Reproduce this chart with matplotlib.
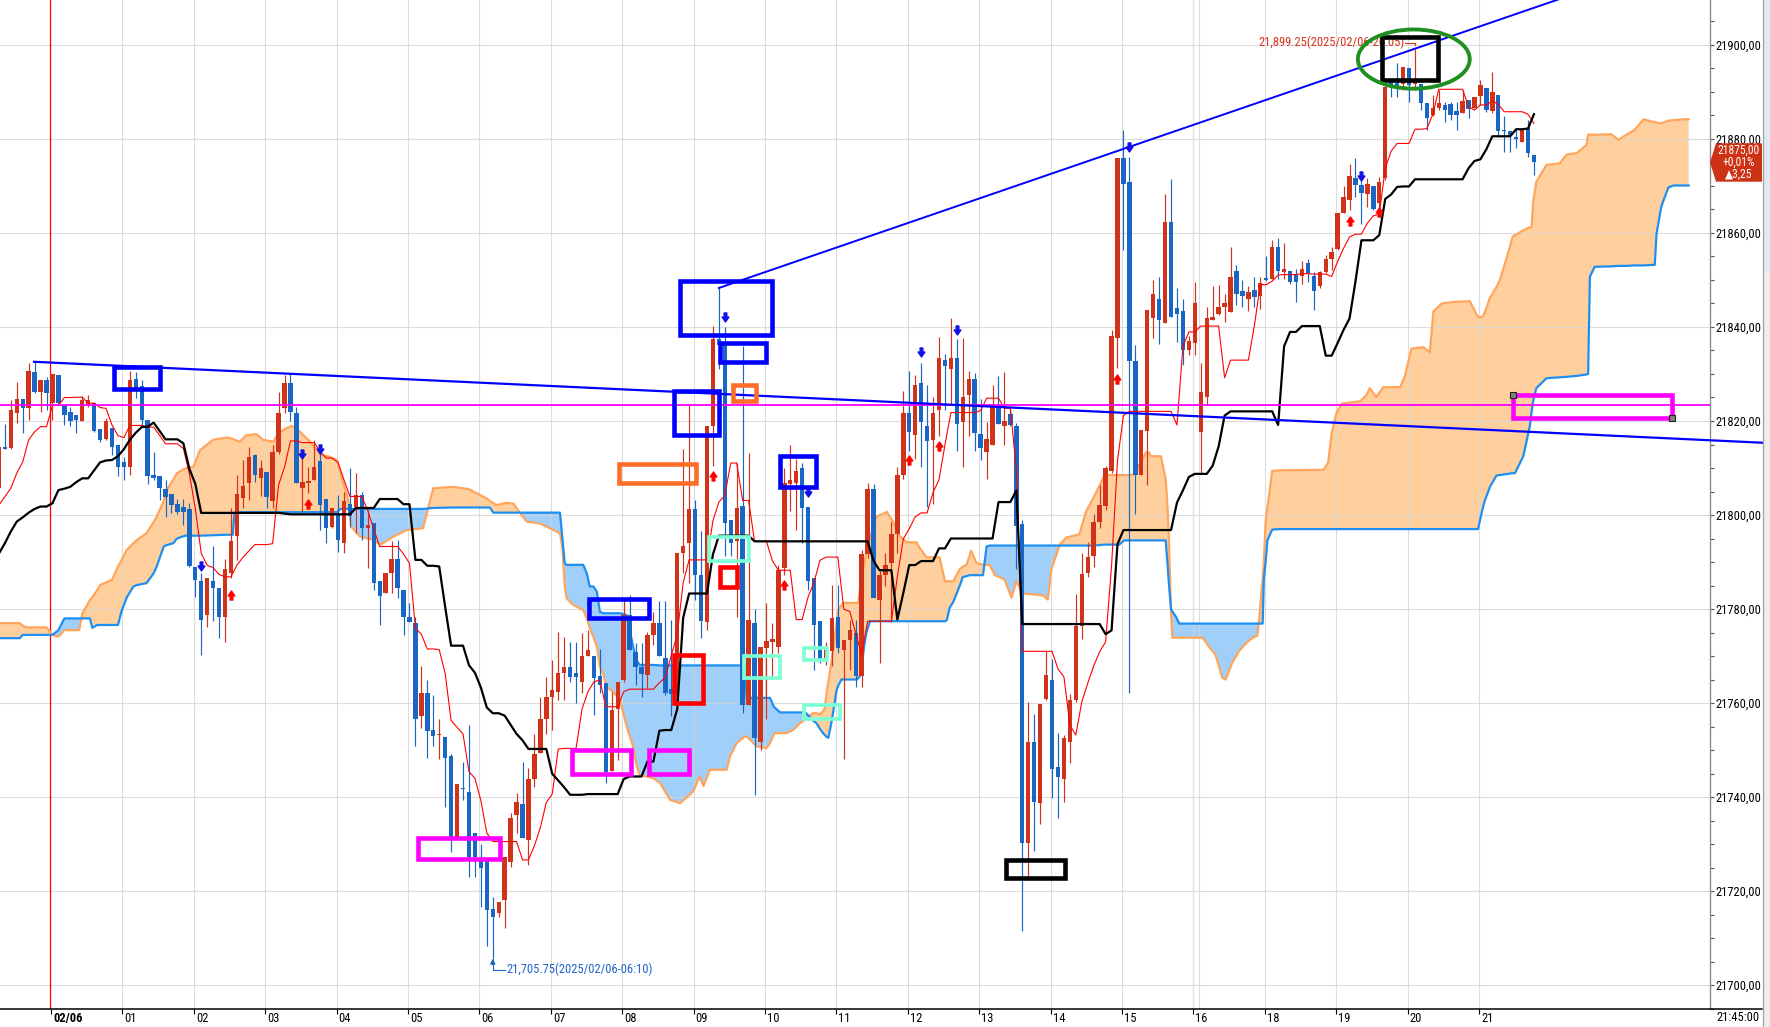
import numpy as np
import pandas as pd
import matplotlib
matplotlib.use("Agg")
import matplotlib.pyplot as plt
from matplotlib import font_manager
from matplotlib.path import Path
from matplotlib.patches import Rectangle, Ellipse, Polygon

# ---------------- data (5-minute candles, index 0 = 02/06 00:00) ----------------
first_idx = -9
opens = [
    21805.7, 21814.5, 21814.2, 21821.6, 21824.6, 21822.7, 21830.4, 21826.2, 21828.7, 21823.8,
    21829.8, 21823.5, 21822.0, 21821.3, 21819.9, 21823.4, 21823.8, 21818.4, 21816.2, 21818.5,
    21814.8, 21811.3, 21810.3, 21828.9, 21827.4, 21820.2, 21808.5, 21808.4, 21805.5, 21804.5,
    21802.3, 21801.6, 21801.2, 21789.0, 21786.0, 21778.7, 21786.0, 21784.5, 21778.4, 21787.6,
    21795.6, 21803.6, 21806.8, 21812.8, 21807.8, 21809.1, 21802.9, 21813.5, 21822.7, 21828.1,
    21821.8, 21805.7, 21806.9, 21807.5, 21811.4, 21803.4, 21797.5, 21800.2, 21794.1, 21802.3,
    21801.8, 21804.3, 21797.2, 21798.4, 21785.9, 21783.4, 21787.6, 21790.6, 21784.1, 21778.4,
    21777.0, 21757.2, 21762.1, 21754.3, 21753.2, 21752.8, 21748.7, 21731.6, 21741.8, 21741.0,
    21732.3, 21727.0, 21726.6, 21716.1, 21715.4, 21718.1, 21726.2, 21736.2, 21738.5, 21730.9,
    21743.8, 21749.3, 21756.7, 21761.3, 21762.4, 21766.3, 21767.7, 21766.3, 21764.5, 21770.0,
    21770.0, 21765.7, 21764.2, 21745.6, 21758.7, 21764.9, 21778.7, 21770.9, 21767.7, 21766.0,
    21774.5, 21777.0, 21769.6, 21763.0, 21761.8, 21791.9, 21794.0, 21801.3, 21787.2, 21777.2,
    21819.0, 21837.5, 21836.5, 21799.0, 21794.4, 21802.0, 21759.6, 21777.0, 21751.8, 21771.7,
    21772.9, 21772.0, 21788.7, 21806.5, 21806.8, 21809.9, 21801.8, 21786.6, 21777.4, 21769.5,
    21771.0, 21778.4, 21771.3, 21773.5, 21774.9, 21765.8, 21791.6, 21805.6, 21782.0, 21787.2,
    21789.8, 21795.9, 21808.5, 21821.6, 21817.0, 21828.1, 21819.0, 21815.9, 21822.3, 21833.0,
    21831.0, 21833.3, 21819.8, 21825.5, 21829.0, 21817.2, 21813.5, 21815.0, 21823.1, 21819.0,
    21821.4, 21819.0, 21798.1, 21730.3, 21751.6, 21738.7, 21760.9, 21765.0, 21746.3, 21743.9,
    21751.6, 21760.7, 21776.3, 21787.7, 21791.3, 21798.5, 21802.0, 21809.4, 21837.7, 21875.9,
    21870.8, 21832.8, 21808.5, 21817.8, 21842.0, 21846.0, 21840.8, 21862.3, 21844.0, 21843.3,
    21835.0, 21836.5, 21817.6, 21825.1, 21841.5, 21842.8, 21844.2, 21843.2, 21852.0, 21847.7,
    21846.0, 21847.9, 21846.5, 21850.5, 21850.3, 21857.1, 21851.7, 21852.0, 21851.1, 21850.9,
    21853.6, 21850.9, 21848.7, 21851.8, 21854.4, 21856.5, 21864.2, 21867.0, 21871.6, 21870.2,
    21868.4, 21870.0, 21866.3, 21871.6, 21892.2, 21892.0, 21891.8, 21895.0, 21891.7, 21891.8,
    21887.6, 21885.1, 21886.5, 21887.2, 21887.4, 21886.0, 21885.6, 21888.3, 21886.5, 21889.1,
    21890.8, 21886.0, 21889.4, 21882.0, 21881.6, 21880.3, 21879.4, 21882.3, 21876.6,
]
highs = [
    21815.0, 21819.4, 21824.5, 21828.4, 21824.6, 21832.4, 21832.6, 21828.7, 21829.4, 21830.1,
    21829.8, 21823.5, 21823.0, 21821.3, 21825.3, 21825.5, 21823.8, 21818.4, 21820.6, 21818.5,
    21814.8, 21812.4, 21830.7, 21830.4, 21828.7, 21820.2, 21813.5, 21808.4, 21807.4, 21804.5,
    21803.5, 21803.5, 21802.6, 21789.0, 21787.6, 21786.7, 21793.3, 21784.5, 21790.6, 21801.4,
    21808.5, 21811.7, 21814.5, 21813.0, 21811.7, 21809.1, 21814.9, 21826.2, 21829.8, 21830.1,
    21823.0, 21812.8, 21810.3, 21816.0, 21813.1, 21803.4, 21801.4, 21804.3, 21805.0, 21809.9,
    21808.9, 21805.0, 21801.1, 21798.4, 21785.9, 21787.6, 21794.4, 21794.7, 21784.1, 21781.3,
    21778.4, 21767.8, 21765.0, 21761.8, 21756.5, 21752.8, 21749.1, 21742.8, 21747.5, 21755.3,
    21732.3, 21730.0, 21726.6, 21718.8, 21717.7, 21727.3, 21736.5, 21740.8, 21747.5, 21746.1,
    21753.5, 21761.3, 21765.6, 21769.2, 21775.2, 21774.1, 21773.0, 21773.0, 21774.8, 21775.5,
    21770.0, 21771.5, 21764.2, 21762.4, 21764.5, 21781.9, 21783.0, 21772.7, 21772.7, 21775.2,
    21779.4, 21781.6, 21781.6, 21777.7, 21791.9, 21814.0, 21823.7, 21803.1, 21796.5, 21819.0,
    21840.3, 21848.3, 21840.0, 21799.0, 21811.0, 21836.0, 21813.2, 21779.9, 21772.0, 21781.3,
    21777.0, 21789.4, 21810.0, 21815.0, 21811.9, 21811.0, 21801.8, 21786.6, 21777.4, 21773.0,
    21785.2, 21785.2, 21773.5, 21777.7, 21777.7, 21792.6, 21806.8, 21806.5, 21788.0, 21792.0,
    21798.5, 21810.3, 21826.3, 21830.7, 21829.8, 21832.4, 21827.7, 21825.0, 21837.8, 21834.2,
    21842.0, 21837.4, 21837.7, 21830.7, 21830.3, 21824.6, 21819.8, 21827.7, 21829.6, 21830.4,
    21822.9, 21819.5, 21799.0, 21760.3, 21757.7, 21759.7, 21771.1, 21769.4, 21753.7, 21753.3,
    21762.0, 21783.1, 21792.0, 21794.2, 21800.3, 21806.3, 21810.5, 21839.3, 21876.0, 21882.0,
    21876.2, 21836.1, 21818.0, 21843.6, 21850.0, 21850.7, 21868.2, 21871.5, 21848.3, 21845.9,
    21838.1, 21849.5, 21832.4, 21844.2, 21848.7, 21849.0, 21847.0, 21857.0, 21853.2, 21849.9,
    21848.7, 21850.7, 21850.7, 21855.2, 21858.5, 21858.9, 21857.9, 21852.0, 21852.4, 21854.0,
    21854.4, 21851.7, 21852.0, 21855.3, 21857.1, 21864.3, 21869.9, 21874.7, 21875.9, 21871.3,
    21871.6, 21870.0, 21872.0, 21891.1, 21893.0, 21896.2, 21895.4, 21895.0, 21899.25, 21891.8,
    21887.6, 21889.4, 21890.4, 21887.9, 21887.9, 21887.9, 21890.4, 21888.3, 21889.0, 21892.6,
    21890.8, 21894.3, 21889.4, 21884.8, 21881.6, 21882.3, 21881.9, 21884.0, 21876.6,
]
lows = [
    21805.0, 21814.0, 21814.0, 21819.5, 21817.4, 21820.2, 21825.9, 21822.0, 21822.3, 21820.2,
    21823.4, 21819.1, 21819.0, 21817.5, 21819.9, 21823.0, 21817.7, 21815.6, 21816.0, 21812.8,
    21808.3, 21807.4, 21808.5, 21824.8, 21818.8, 21806.7, 21807.4, 21803.2, 21799.6, 21800.4,
    21800.2, 21797.9, 21789.0, 21782.6, 21770.2, 21776.1, 21777.4, 21773.8, 21772.9, 21786.6,
    21790.5, 21801.4, 21803.2, 21807.0, 21804.0, 21801.4, 21801.4, 21813.0, 21821.6, 21819.9,
    21806.8, 21800.7, 21804.6, 21807.5, 21796.8, 21794.1, 21797.2, 21792.2, 21791.9, 21797.5,
    21796.1, 21794.7, 21788.7, 21784.1, 21776.7, 21783.4, 21783.4, 21782.3, 21774.5, 21777.2,
    21750.8, 21754.7, 21748.3, 21750.8, 21748.0, 21737.9, 21728.4, 21731.6, 21739.4, 21723.0,
    21723.0, 21716.7, 21708.2, 21705.75, 21714.5, 21712.1, 21725.2, 21732.3, 21731.2, 21725.5,
    21742.2, 21749.3, 21753.5, 21754.3, 21760.6, 21760.6, 21764.5, 21759.9, 21762.1, 21769.9,
    21757.4, 21762.1, 21742.9, 21745.6, 21747.9, 21764.5, 21771.3, 21763.8, 21761.3, 21763.1,
    21772.3, 21769.9, 21761.8, 21757.2, 21760.0, 21787.7, 21785.5, 21782.0, 21773.8, 21775.6,
    21810.4, 21831.0, 21791.2, 21791.2, 21778.4, 21757.9, 21759.6, 21740.5, 21750.1, 21756.5,
    21765.7, 21770.6, 21787.3, 21800.8, 21796.9, 21794.0, 21784.1, 21767.1, 21768.5, 21768.0,
    21767.8, 21770.6, 21748.0, 21767.1, 21763.5, 21763.5, 21790.9, 21782.3, 21768.5, 21785.0,
    21777.2, 21792.0, 21807.7, 21813.7, 21812.0, 21810.3, 21801.6, 21802.4, 21816.8, 21822.4,
    21823.3, 21813.7, 21810.3, 21816.8, 21813.7, 21811.6, 21807.7, 21815.0, 21819.4, 21815.0,
    21819.0, 21788.5, 21711.6, 21723.3, 21728.5, 21734.2, 21760.7, 21739.8, 21735.5, 21739.0,
    21747.2, 21760.3, 21773.7, 21786.8, 21789.0, 21797.2, 21801.0, 21808.9, 21831.2, 21856.4,
    21762.1, 21800.3, 21808.5, 21806.4, 21837.7, 21836.3, 21840.8, 21842.2, 21836.9, 21832.0,
    21834.1, 21834.1, 21808.9, 21823.5, 21841.4, 21842.6, 21841.0, 21843.2, 21844.6, 21844.2,
    21843.4, 21844.2, 21843.8, 21849.8, 21850.3, 21850.3, 21850.3, 21849.1, 21845.4, 21849.1,
    21849.5, 21843.6, 21848.3, 21851.4, 21852.1, 21856.4, 21864.2, 21864.9, 21867.7, 21861.9,
    21865.6, 21864.9, 21865.2, 21871.3, 21889.0, 21889.0, 21890.4, 21887.9, 21890.5, 21886.2,
    21881.9, 21884.8, 21886.2, 21883.7, 21884.0, 21881.9, 21885.5, 21884.4, 21886.5, 21887.2,
    21885.8, 21885.5, 21880.5, 21877.3, 21877.3, 21878.0, 21879.4, 21876.2, 21872.3,
]
closes = [
    21814.4, 21814.0, 21822.3, 21824.6, 21822.7, 21830.6, 21826.2, 21828.7, 21825.9, 21830.1,
    21823.8, 21821.3, 21819.9, 21820.2, 21824.5, 21824.5, 21817.9, 21816.0, 21819.9, 21814.5,
    21810.3, 21810.3, 21828.7, 21826.9, 21820.2, 21808.2, 21807.8, 21805.7, 21803.9, 21802.2,
    21800.7, 21800.7, 21789.2, 21786.2, 21777.7, 21786.7, 21784.5, 21778.2, 21788.5, 21794.4,
    21804.5, 21806.2, 21812.4, 21808.5, 21810.0, 21803.9, 21813.5, 21821.8, 21828.1, 21822.0,
    21806.8, 21807.1, 21807.0, 21810.3, 21802.2, 21797.3, 21801.4, 21794.6, 21803.0, 21799.7,
    21804.3, 21797.2, 21797.9, 21785.5, 21782.7, 21787.6, 21790.6, 21784.4, 21778.2, 21777.2,
    21756.7, 21762.1, 21754.0, 21752.9, 21753.4, 21748.4, 21731.6, 21742.8, 21741.6, 21727.3,
    21727.3, 21725.0, 21716.0, 21714.5, 21717.7, 21727.3, 21735.5, 21739.0, 21731.2, 21743.9,
    21749.1, 21756.7, 21761.3, 21762.8, 21766.3, 21767.7, 21765.6, 21765.6, 21769.9, 21771.3,
    21765.4, 21763.8, 21745.4, 21758.5, 21764.5, 21778.7, 21771.3, 21767.7, 21766.2, 21774.5,
    21777.0, 21769.9, 21762.1, 21762.0, 21791.9, 21793.5, 21801.3, 21787.2, 21777.4, 21819.0,
    21837.5, 21836.2, 21798.3, 21794.0, 21801.5, 21759.6, 21777.7, 21752.6, 21772.0, 21773.3,
    21773.7, 21788.4, 21806.9, 21807.4, 21809.4, 21801.5, 21785.9, 21776.7, 21769.4, 21772.0,
    21778.1, 21771.7, 21773.5, 21775.6, 21765.7, 21791.6, 21805.6, 21782.3, 21787.3, 21789.4,
    21795.9, 21808.5, 21821.8, 21817.7, 21827.7, 21819.8, 21815.7, 21821.8, 21833.5, 21831.6,
    21833.3, 21819.4, 21825.2, 21829.0, 21817.5, 21814.2, 21816.1, 21823.1, 21819.4, 21820.0,
    21819.1, 21797.7, 21730.3, 21751.6, 21739.0, 21759.7, 21765.9, 21745.9, 21744.2, 21752.6,
    21760.7, 21776.3, 21787.5, 21791.0, 21798.5, 21802.2, 21810.1, 21838.1, 21875.9, 21870.4,
    21832.8, 21808.5, 21818.0, 21843.6, 21847.1, 21841.4, 21862.3, 21842.2, 21842.8, 21835.0,
    21837.1, 21845.2, 21826.2, 21842.0, 21842.2, 21844.2, 21845.0, 21850.7, 21847.1, 21846.5,
    21847.5, 21846.3, 21849.3, 21849.9, 21857.1, 21852.0, 21852.4, 21849.5, 21849.5, 21852.4,
    21851.5, 21847.7, 21851.7, 21854.4, 21856.0, 21864.3, 21867.7, 21872.1, 21870.2, 21868.6,
    21870.4, 21865.0, 21870.9, 21891.1, 21891.5, 21891.0, 21895.4, 21891.5, 21892.5, 21887.6,
    21884.4, 21886.5, 21887.6, 21886.2, 21885.1, 21885.1, 21888.1, 21886.3, 21889.0, 21891.5,
    21886.2, 21889.9, 21881.6, 21881.6, 21880.6, 21880.1, 21881.9, 21877.1, 21875.0,
]

# conversion / base line values before a full window exists
tenkan_lead = [21802.1, 21803.9, 21805.7, 21808.9, 21811.3, 21816.0, 21817.7, 21818.8]
kijun_lead = [21791.8, 21794.0, 21796.5, 21798.6, 21799.5, 21800.5, 21801.3, 21801.8,
              21801.8, 21802.5, 21805.3, 21805.6, 21806.0, 21807.0, 21807.8, 21807.8,
              21809.5, 21811.2, 21811.6, 21811.7, 21812.5, 21814.0, 21816.0, 21817.5, 21818.7]

# leading spans (cloud)
span_x = [
    -9, -5.5, -5, -4.5, -1, 0, 1, 2, 4.5, 5, 6.3, 6.7, 7.5, 8, 10, 11, 11.6, 12.5, 13.6, 14.2,
    15.8, 17, 17.5, 18.7, 19.2, 20.3, 20.9, 22.3, 23.7, 24.8, 27, 29.3, 30.3, 30.6, 31.5, 32.6,
    34.3, 35.4, 37.1, 38.2, 40.2, 41.6, 43.3, 45, 46.6, 47.8, 48.4, 48.9, 49.7, 50.2, 51.7, 54,
    55.1, 57.3, 59.5, 62.3, 63.2, 64, 67.4, 70, 73, 73.5, 74.1, 74.6, 76.3, 77.5, 78.6, 79.7,
    81.9, 83.6, 85.3, 85.7, 86.1, 86.4, 87.5, 89.2, 89.8, 90.3, 90.9, 91.5, 92, 92.6, 93.1, 94.2,
    95.4, 96.5, 97.6, 98.2, 98.7, 101, 102.1, 103.8, 105.5, 107.7, 108.8, 109.4, 110.5, 113.3,
    113.9, 115, 116.3, 116.7, 118.3, 120, 120.6, 121.2, 121.4, 122.3, 123.4, 124.5, 125.6, 126.2,
    126.7, 127.9, 128.4, 129, 129.5, 129.8, 130.1, 130.4, 130.9, 131.2, 131.8, 132.1, 132.6,
    132.9, 135.2, 135.4, 135.7, 136, 136.5, 136.8, 137.4, 138.5, 139.9, 140.2, 141.3, 142.4,
    143.6, 145.2, 145.8, 146.9, 149.1, 150, 150.3, 150.8, 151.4, 152.5, 153, 153.6, 154.2, 154.4,
    155.3, 156.4, 157, 157.5, 158.4, 160, 161.2, 162, 163.1, 166.5, 167.3, 167.9, 169.3, 170.4,
    172.6, 173.7, 174.8, 176, 176.8, 179.3, 180.1, 181.5, 182.1, 183.8, 184.3, 184.6, 186.3,
    187.1, 187.4, 187.6, 188, 188.2, 188.8, 189.4, 193.3, 194.4, 195.5, 196.6, 197.2, 198.3,
    199.4, 200.6, 201.7, 202.5, 202.8, 203.4, 203.6, 203.9, 204.2, 204.5, 205, 206.3, 213.6,
    214.4, 215, 215.8, 216.7, 219.8, 220.9, 221.4, 222.5, 223.7, 226.5, 227.3, 228.4, 230.4,
    231.5, 232.1, 233.5, 235.4, 238.2, 239.6, 240.3, 240.7, 241.6, 242.7, 243.3, 244.8, 245.4,
    245.8, 247.2, 248.3, 248.6, 248.9, 249.4, 251.1, 253.3, 254.5, 256.2, 257.8, 258.1, 258.4,
    259.2, 262, 263.2, 264.5, 265.9, 267.4, 268.8, 269.3, 269.6, 270.4, 271, 271.6, 272.4,
    274.4, 275,
]
span_a = [
    21777.0, 21777.0, 21776.5, 21776.1, 21776.1, 21774.5, 21774.1, 21775.5, 21775.5, 21779.0,
    21781.9, 21782.5, 21784.0, 21785.1, 21786.2, 21789.0, 21790.4, 21792.6, 21794.0, 21794.7,
    21796.1, 21798.5, 21799.6, 21803.0, 21805.3, 21807.5, 21808.9, 21809.9, 21810.3, 21813.8,
    21816.0, 21816.5, 21816.2, 21816.0, 21815.6, 21817.0, 21817.2, 21816.0, 21815.6, 21817.7,
    21819.0, 21817.7, 21815.6, 21812.8, 21812.4, 21811.7, 21809.0, 21806.8, 21803.2, 21797.5,
    21795.4, 21794.7, 21793.7, 21795.4, 21796.8, 21797.2, 21801.8, 21805.7, 21806.0, 21805.5,
    21803.5, 21803.0, 21802.5, 21802.1, 21802.6, 21802.4, 21800.4, 21798.6, 21798.2, 21797.2,
    21796.1, 21793.0, 21784.8, 21782.3, 21780.9, 21779.8, 21778.0, 21776.0, 21774.1, 21772.0,
    21767.7, 21766.0, 21763.5, 21762.4, 21760.6, 21755.0, 21750.7, 21746.5, 21744.7, 21744.0,
    21743.0, 21739.4, 21738.7, 21741.2, 21744.4, 21742.3, 21745.8, 21745.8, 21748.7, 21751.5,
    21752.8, 21752.9, 21750.8, 21750.4, 21751.5, 21753.2, 21753.6, 21753.6, 21753.6, 21754.3,
    21755.7, 21756.2, 21756.8, 21757.9, 21757.8, 21757.6, 21758.2, 21758.9, 21762.1, 21764.5,
    21768.5, 21771.3, 21777.0, 21779.9, 21780.8, 21781.3, 21781.3, 21781.3, 21784.0, 21787.0,
    21790.0, 21792.6, 21795.0, 21799.7, 21800.4, 21800.7, 21798.5, 21795.5, 21794.2, 21794.2,
    21792.9, 21791.0, 21791.0, 21785.9, 21785.9, 21785.9, 21785.9, 21788.5, 21789.0, 21789.4,
    21791.5, 21792.4, 21789.8, 21789.4, 21789.4, 21789.4, 21787.2, 21786.3, 21782.4, 21785.9,
    21783.3, 21782.9, 21782.0, 21788.5, 21793.7, 21795.2, 21795.9, 21800.7, 21803.3, 21806.3,
    21808.5, 21808.5, 21808.5, 21808.5, 21809.3, 21813.3, 21813.3, 21812.5, 21812.5, 21807.6,
    21802.0, 21796.3, 21779.2, 21773.9, 21773.9, 21773.9, 21773.9, 21771.9, 21770.2, 21765.4,
    21765.0, 21768.6, 21771.0, 21772.7, 21773.9, 21774.3, 21777.6, 21786.5, 21790.0, 21798.7,
    21801.5, 21804.4, 21809.4, 21809.5, 21809.6, 21811.1, 21817.4, 21821.7, 21823.7, 21824.2,
    21825.6, 21827.0, 21825.1, 21827.2, 21827.2, 21829.5, 21835.4, 21835.7, 21834.6, 21843.3,
    21845.0, 21845.3, 21845.5, 21842.1, 21842.1, 21843.0, 21846.2, 21848.5, 21850.1, 21856.4,
    21859.2, 21859.5, 21860.6, 21861.2, 21861.3, 21867.0, 21870.9, 21874.5, 21874.8, 21876.7,
    21877.0, 21878.7, 21880.9, 21880.9, 21880.9, 21881.0, 21879.8, 21880.9, 21881.9, 21884.2,
    21883.7, 21883.6, 21883.5, 21883.3, 21883.6, 21883.9, 21884.0, 21884.2, 21884.2,
]
span_b = [
    21773.8, 21773.8, 21774.5, 21774.5, 21774.5, 21774.5, 21775.5, 21778.0, 21778.0, 21778.0,
    21778.0, 21776.0, 21776.6, 21776.6, 21776.6, 21776.6, 21779.5, 21782.5, 21784.8, 21785.1,
    21785.5, 21787.6, 21789.0, 21793.3, 21793.6, 21794.0, 21795.0, 21795.6, 21795.6, 21795.6,
    21795.7, 21795.8, 21795.8, 21800.5, 21800.6, 21800.6, 21800.6, 21800.6, 21800.6, 21800.6,
    21800.6, 21800.6, 21800.6, 21800.6, 21800.6, 21800.6, 21801.3, 21801.3, 21801.3, 21801.3,
    21801.3, 21801.3, 21801.3, 21801.3, 21801.3, 21801.3, 21801.4, 21801.5, 21801.6, 21801.6,
    21801.6, 21801.6, 21800.5, 21800.5, 21800.5, 21800.5, 21800.5, 21800.5, 21800.5, 21800.5,
    21800.5, 21795.0, 21789.7, 21789.4, 21789.4, 21789.4, 21787.6, 21784.8, 21784.8, 21783.7,
    21779.4, 21779.1, 21779.1, 21779.1, 21779.1, 21778.7, 21772.0, 21769.0, 21768.1, 21768.1,
    21768.0, 21768.0, 21768.0, 21768.0, 21768.0, 21768.0, 21768.0, 21768.0, 21768.0, 21768.0,
    21768.0, 21761.1, 21761.1, 21761.1, 21761.1, 21759.3, 21759.0, 21758.0, 21758.0, 21758.0,
    21758.0, 21758.0, 21757.8, 21756.2, 21755.7, 21754.5, 21753.6, 21753.2, 21752.8, 21752.6,
    21755.7, 21758.0, 21762.8, 21763.8, 21765.0, 21765.0, 21765.0, 21765.3, 21765.7, 21768.0,
    21772.8, 21775.0, 21777.4, 21777.4, 21777.4, 21777.4, 21777.4, 21777.4, 21777.4, 21777.4,
    21777.4, 21777.4, 21777.4, 21777.4, 21777.6, 21780.3, 21781.5, 21785.0, 21786.8, 21787.0,
    21787.2, 21787.2, 21787.2, 21787.2, 21793.3, 21793.5, 21793.5, 21793.5, 21793.5, 21793.5,
    21793.5, 21793.5, 21793.5, 21793.5, 21793.5, 21793.5, 21793.5, 21793.5, 21793.5, 21793.6,
    21793.7, 21793.7, 21794.6, 21794.6, 21794.6, 21794.6, 21794.6, 21794.6, 21794.6, 21794.6,
    21789.8, 21786.0, 21780.0, 21779.5, 21778.4, 21776.9, 21776.9, 21776.9, 21776.9, 21776.9,
    21776.9, 21776.9, 21776.9, 21776.9, 21776.9, 21776.9, 21776.9, 21776.9, 21786.5, 21790.0,
    21794.6, 21795.5, 21796.9, 21797.0, 21797.0, 21797.0, 21797.0, 21797.0, 21797.0, 21797.0,
    21797.0, 21797.0, 21797.0, 21797.0, 21797.0, 21797.0, 21797.0, 21797.0, 21797.0, 21797.0,
    21797.0, 21797.0, 21797.0, 21797.0, 21801.0, 21802.9, 21806.0, 21808.4, 21808.5, 21808.8,
    21808.9, 21808.9, 21812.5, 21818.9, 21822.0, 21824.5, 21827.0, 21829.1, 21829.3, 21829.4,
    21829.6, 21829.9, 21830.0, 21850.7, 21852.8, 21852.9, 21853.0, 21853.0, 21853.1, 21853.1,
    21853.2, 21853.2, 21859.9, 21865.6, 21867.7, 21869.7, 21870.1, 21870.1, 21870.1,
]

# hour ticks (candle index) and labels
hour_idx = [0, 12, 24, 36, 48, 60, 72, 84, 96, 108, 120, 132, 144, 156, 168, 180, 192,
            204, 216, 228, 240]
hour_labels = ["02/06", "01", "02", "03", "04", "05", "06", "07", "08", "09", "10", "11",
               "12", "13", "14", "15", "16", "18", "19", "20", "21"]

# signal arrows (candle index, price)
sell_x = [25, 42, 45, 113, 127, 146, 152, 181, 220]
sell_y = [21789.1, 21813.0, 21814.1, 21842.1, 21805.0, 21834.6, 21839.3, 21878.4, 21872.2]
buy_x = [30, 43, 111, 123, 144, 149, 179, 218, 223]
buy_y = [21783.0, 21802.3, 21808.3, 21785.2, 21811.6, 21814.6, 21828.9, 21862.6, 21864.4]

# drawn trend lines and level
trend_up_x, trend_up_y = [112, 280], [21848.3, 21921.4]
trend_dn_x, trend_dn_y = [-3.1, 288.7], [21832.6, 21815.3]
level_line = 21823.3

# user boxes: (x0, x1, y0, y1, colour)
boxes = [
    (10.3, 18.0, 21826.9, 21831.4, "#0000ff"),
    (105.4, 121.0, 21838.2, 21849.7, "#0000ff"),
    (112.2, 120.0, 21832.5, 21836.5, "#0000ff"),
    (104.4, 112.0, 21817.0, 21826.3, "#0000ff"),
    (122.3, 128.3, 21805.9, 21812.5, "#0000ff"),
    (90.2, 100.2, 21778.1, 21782.1, "#0000ff"),
    (114.3, 118.2, 21824.3, 21827.6, "#ff6e28"),
    (95.3, 108.2, 21806.8, 21810.9, "#ff6e28"),
    (112.2, 115.1, 21784.7, 21789.0, "#ff0000"),
    (104.4, 109.3, 21760.0, 21770.2, "#ff0000"),
    (110.4, 117.1, 21790.3, 21795.4, "#7fffd4"),
    (116.3, 122.2, 21765.4, 21770.0, "#7fffd4"),
    (126.3, 130.2, 21769.1, 21771.8, "#7fffd4"),
    (126.3, 132.3, 21756.5, 21759.6, "#7fffd4"),
    (61.5, 75.2, 21726.9, 21731.2, "#ff00ff"),
    (87.3, 97.2, 21744.9, 21750.0, "#ff00ff"),
    (100.3, 107.0, 21745.0, 21749.9, "#ff00ff"),
    (245.4, 272.2, 21820.7, 21825.6, "#ff00ff"),
    (223.4, 232.9, 21892.6, 21901.7, "#000000"),
    (160.3, 170.1, 21722.7, 21726.5, "#000000"),
]

# ---------------- fonts: look for an installed narrow face ----------------
def pick_narrow():
    prefs = {"Liberation Sans Narrow": 9.0, "Roboto Condensed": 8.4, "Noto Sans": 8.2,
             "DejaVu Sans": 7.4, "Open Sans": 8.0, "Open Sans Condensed": 8.4}
    entries = font_manager.fontManager.ttflist
    for fam, size in prefs.items():
        for f in entries:
            if f.name != fam or f.style != "normal":
                continue
            st = str(f.stretch)
            if "condensed" in st or "Narrow" in f.name or "Condensed" in f.name:
                return fam, st, size
    return "DejaVu Sans", "normal", 6.6


NFAM, NSTRETCH, FS = pick_narrow()
FONT = dict(family=[NFAM, "DejaVu Sans"], fontstretch=NSTRETCH, fontsize=FS)
FONT_L = dict(FONT, fontsize=FS * 1.07)

# ---------------- indicators ----------------
hi = pd.Series(highs)
lo = pd.Series(lows)
tenkan = ((hi.rolling(9).max() + lo.rolling(9).min()) / 2).to_numpy()
tenkan[:len(tenkan_lead)] = tenkan_lead
kijun = ((hi.rolling(26).max() + lo.rolling(26).min()) / 2).to_numpy()
kijun[:len(kijun_lead)] = kijun_lead

assert len(opens) == len(highs) == len(lows) == len(closes)
assert len(span_x) == len(span_a) == len(span_b)

x = np.arange(first_idx, first_idx + len(opens))
o, h, l, c = (np.array(v) for v in (opens, highs, lows, closes))
sa, sb, sx = np.array(span_a), np.array(span_b), np.array(span_x)

RED = "#d0321a"
BLUE = "#1a66c4"
GRID = "#d4d4d4"

W, H = 1770, 1027
fig = plt.figure(figsize=(W / 100, H / 100), dpi=100)
ax = fig.add_axes([0, 18 / H, 1709.5 / W, 1009 / H])
ax.set_xlim(-8.82, 278.5)
ax.set_ylim(21694.9, 21909.57)

# cloud
ax.fill_between(sx, sa, sb, where=sa >= sb, interpolate=True, color="#ffd09e", lw=0, zorder=1)
ax.fill_between(sx, sa, sb, where=sa < sb, interpolate=True, color="#a0cff9", lw=0, zorder=1)

# grid
for v in range(21700, 21901, 20):
    ax.axhline(v, color=GRID, lw=0.8, zorder=1.5, alpha=0.8)
for t in hour_idx[1:]:
    ax.axvline(t - 0.25, color=GRID, lw=0.8, zorder=1.5, alpha=0.8)
ax.axvline(192.7, color=GRID, lw=0.8, zorder=1.5, alpha=0.8)
ax.axvline(-0.35, color="#ff0000", lw=0.9, zorder=1.7)

ax.plot(sx, sa, color="#ffa55c", lw=1.6, zorder=2)
ax.plot(sx, sb, color="#1e8ff0", lw=1.6, zorder=2)

# candles
up = c >= o
cols = np.where(up, RED, BLUE)
ax.vlines(x, l, h, colors=cols, lw=0.85, zorder=3)
ax.bar(x, np.maximum(np.abs(c - o), 0.25), width=0.74, bottom=np.minimum(o, c),
       color=cols, lw=0, zorder=3)

# conversion / base lines
ax.plot(x, tenkan, color="#ff0000", lw=0.8, zorder=3.5)
ax.plot(x, kijun, color="#000000", lw=1.6, zorder=3.5)

# trend lines and level
ax.axhline(level_line, color="#ff00ff", lw=1.3, zorder=4)
ax.plot(trend_up_x, trend_up_y, color="#0000ff", lw=1.4, zorder=4)
ax.plot(trend_dn_x, trend_dn_y, color="#0000ff", lw=1.6, zorder=4, clip_on=False)

# signal arrows
down_arrow = Path([(-0.3, 1.0), (0.3, 1.0), (0.3, 0.1), (0.75, 0.1), (0, -1.0),
                   (-0.75, 0.1), (-0.3, 0.1), (-0.3, 1.0)], closed=True)
up_arrow = Path([(vx, -vy) for vx, vy in down_arrow.vertices], closed=True)
ax.plot(sell_x, sell_y, ls="none", marker=down_arrow, ms=6.5, color="#1010e6", zorder=5)
ax.plot(buy_x, buy_y, ls="none", marker=up_arrow, ms=6.5, color="#ff0000", zorder=5)

# high / low labels
ax.plot([74, 74, 76.1], [21705.5, 21703.3, 21703.3], color="#1e64c8", lw=0.8, zorder=5)
ax.annotate("", xy=(74, 21705.6), xytext=(74, 21704.3),
            arrowprops=dict(arrowstyle="-|>,head_length=0.3,head_width=0.15",
                            color="#1e64c8", lw=0.8, shrinkA=0, shrinkB=0), zorder=5)
ax.text(76.3, 21703.3, "21,705.75(2025/02/06-06:10)", color="#1e64c8",
        ha="left", va="center", zorder=5, **FONT_L)
ax.plot([227.4, 229, 229], [21900.5, 21900.5, 21899.9], color="#d8301c", lw=0.8, zorder=5)
ax.text(227.3, 21900.5, "21,899.25(2025/02/06-20:05)", color="#d8301c",
        ha="right", va="center", zorder=5, **FONT_L)

# user drawings
for x0, x1, y0, y1, col in boxes:
    lw = 2.7 if col == "#7fffd4" else 3.3
    ax.add_patch(Rectangle((x0, y0), x1 - x0, y1 - y0, fill=False, ec=col, lw=lw,
                           joinstyle="miter", zorder=6))
ax.add_patch(Ellipse((228.8, 21897.0), 18.8, 12.6, fill=False, ec="#1f8f1f", lw=2.8, zorder=6))
ax.plot([245.4, 272.2], [21825.6, 21820.7], ls="none", marker="s", ms=4.2,
        mfc="#808080", mec="#202020", mew=0.8, zorder=7)

# axes styling
for s in ["left", "top", "bottom"]:
    ax.spines[s].set_visible(False)
ax.spines["right"].set_color("#8a8a8a")
ax.spines["right"].set_linewidth(1.0)
ax.set_xticks([])
yt = np.arange(21700, 21901, 20)
ax.yaxis.tick_right()
ax.set_yticks(yt)
ax.set_yticks(np.arange(21695, 21910, 5), minor=True)
ax.set_yticklabels([f"{v:.2f}".replace(".", ",") for v in yt], **FONT_L)
ax.tick_params(axis="y", which="both", direction="out", length=3.0, width=0.8,
               color="#555555", pad=1.0)

# x axis line, tick marks and labels
xt = ax.get_xaxis_transform()
fig.add_artist(plt.Line2D([0, 1762 / W], [18 / H, 18 / H], color="#000000", lw=1.1,
                          transform=fig.transFigure))
ax.vlines([t - 0.25 for t in hour_idx], -0.005, 0, transform=xt, color="#000000",
          lw=0.8, clip_on=False)
for t, lab in zip(hour_idx, hour_labels):
    ax.text(t + 0.1, -0.003, lab, transform=xt, ha="left", va="top",
            fontweight="bold" if lab == "02/06" else "normal", clip_on=False, **FONT_L)
fig.text(1760 / W, 1 - 1011 / H, "21:45:00", ha="right", va="top", **FONT_L)

# current price tag
tag = [(1716, 143.3), (1762, 143.3), (1762, 181.7), (1716, 181.7), (1710, 162.5)]
fig.add_artist(Polygon([(px / W, 1 - py / H) for px, py in tag], closed=True,
                       fc="#cd3214", ec="none", transform=fig.transFigure))
for py, txt in [(150.7, "21875,00"), (162.7, "+0,01%"), (174.3, "\u25b23,25")]:
    fig.text(1739 / W, 1 - py / H, txt, color="white", ha="center", va="center", **FONT)

# side panel edge
fig.add_artist(Rectangle((1763 / W, 0), 7 / W, 1, fc="#ededed", ec="none",
                         transform=fig.transFigure))
fig.add_artist(Rectangle((1764 / W, 1 - 270 / H), 6 / W, 270 / H, fc="#e3e9f0", ec="none",
                         transform=fig.transFigure))
fig.add_artist(plt.Line2D([1763 / W, 1763 / W], [0, 1], color="#a0a0a0", lw=0.9,
                          transform=fig.transFigure))

fig.savefig("out.png", dpi=100)
